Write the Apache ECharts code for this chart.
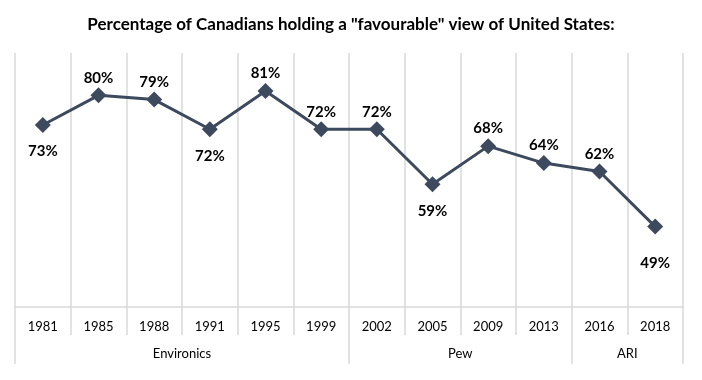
<!DOCTYPE html>
<html>
<head>
<meta charset="utf-8">
<script src="https://cdn.jsdelivr.net/npm/echarts@6/dist/echarts.min.js"></script>
<style>html,body{margin:0;padding:0;background:#fff}#c{width:702px;height:380px}</style>
</head>
<body>
<div id="c"></div>
<script>
var years = ['1981','1985','1988','1991','1995','1999','2002','2005','2009','2013','2016','2018'];
var values = [73, 80, 79, 72, 81, 72, 72, 59, 68, 64, 62, 49];
var groupNames = ['Environics', 'Pew', 'ARI'];
var groupSpans = [6, 4, 2];
var titleText = 'Percentage of Canadians holding a "favourable" view of United States:';

// Build group axis (boundary positions 0..N) from the group arrays
var groupAxisData = [];
for (var i = 0; i <= years.length; i++) groupAxisData.push('');
var boundaries = [0];
var pos = 0;
for (var g = 0; g < groupNames.length; g++) {
  groupAxisData[pos + groupSpans[g] / 2] = groupNames[g];
  pos += groupSpans[g];
  boundaries.push(pos);
}

var FONT = 'Lato, "Liberation Sans", sans-serif';
var lineColor = '#3d4a5e';
var gridColor = '#d9d9d9';

var seriesData = values.map(function (v, i) {
  var prev = i > 0 ? values[i - 1] : Infinity;
  var next = i < values.length - 1 ? values[i + 1] : Infinity;
  var below = v < prev && v < next;
  var isLast = i === values.length - 1;
  return {
    value: v,
    label: below ? { position: 'bottom', distance: isLast ? 21 : 11 } : { position: 'top', distance: 2 }
  };
});

var chart = echarts.init(document.getElementById('c'), null, { renderer: 'canvas' });
chart.setOption({
  animation: false,
  title: {
    text: titleText,
    left: 'center',
    top: 11,
    textStyle: { fontFamily: FONT, fontWeight: 'bold', fontSize: 17, color: '#000' }
  },
  grid: { left: 15, right: 19, top: 53, bottom: 73, containLabel: false },
  xAxis: [{
    type: 'category',
    data: years,
    boundaryGap: true,
    position: 'bottom',
    axisLine: { show: true, lineStyle: { color: gridColor, width: 1.5 } },
    axisTick: { show: true, length: 28, lineStyle: { color: gridColor, width: 1.5 } },
    axisLabel: { margin: 13, fontFamily: FONT, fontSize: 13, color: '#000' },
    splitLine: { show: true, lineStyle: { color: gridColor, width: 1.5 } }
  }, {
    type: 'category',
    data: groupAxisData,
    boundaryGap: false,
    position: 'bottom',
    axisLine: { show: false },
    axisTick: {
      show: true, length: 57,
      interval: function (idx) { return boundaries.indexOf(idx) >= 0; },
      lineStyle: { color: gridColor, width: 1.5 }
    },
    axisLabel: {
      margin: 40, fontFamily: FONT, fontSize: 13, color: '#000',
      interval: function (idx, val) { return val !== ''; }
    },
    splitLine: { show: false }
  }],
  yAxis: { type: 'value', min: 30, max: 90, show: false },
  series: [{
    type: 'line',
    xAxisIndex: 0,
    data: seriesData,
    symbol: 'diamond',
    symbolSize: 16,
    lineStyle: { color: lineColor, width: 3 },
    itemStyle: { color: lineColor },
    label: {
      show: true,
      formatter: '{c}%',
      fontFamily: FONT, fontWeight: 'bold', fontSize: 15, color: '#000'
    }
  }]
});
</script>
</body>
</html>
